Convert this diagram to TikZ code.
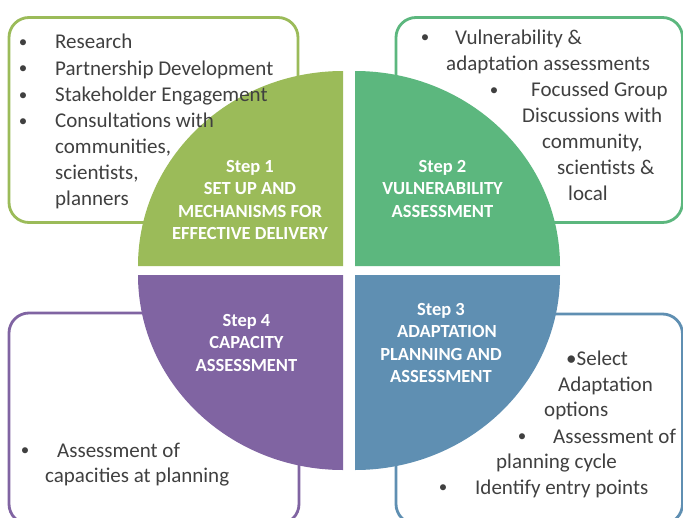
\documentclass[tikz,border=0pt]{standalone}
\usepackage{fontspec}
\setmainfont{Carlito}
\definecolor{stepolive}{HTML}{9BBB59}
\definecolor{stepgreen}{HTML}{5CB77E}
\definecolor{stepblue}{HTML}{5F8FB2}
\definecolor{steppurple}{HTML}{8064A2}
\definecolor{bodygray}{HTML}{404040}
\begin{document}
\begin{tikzpicture}[x=1pt,y=-1pt,
  box/.style={line width=2.8pt, rounded corners=20pt},
  body/.style={inner sep=0pt, text=bodygray, font=\fontsize{21}{26}\selectfont},
  bodyline/.style={body, anchor=base west},
  bulletmark/.style={inner sep=0pt, anchor=base, text=bodygray, font=\fontsize{17}{20}\selectfont, yshift=1.3pt},
  steptext/.style={inner sep=0pt, anchor=base, text=white, font=\fontsize{18.5}{22.5}\selectfont\bfseries},
]
\useasboundingbox (0,0) rectangle (683,517);
\fill[white] (0,0) rectangle (683,517);

% outlined text boxes, one per step
\draw[box, draw=stepolive]  (9,17.5)  rectangle (298,222.5);
\draw[box, draw=stepgreen]  (396,17.5) rectangle (682.5,222.5);
\draw[box, draw=steppurple] (9,313)   rectangle (299,524);
\draw[box, draw=stepblue]   (396,314) rectangle (682.5,524);

% the four quarters of the step wheel
\fill[stepolive]  (343,266) -- ++(-205,0) arc[start angle=180, end angle=270, x radius=205, y radius=195] -- cycle;
\fill[stepgreen]  (355,266) -- ++(0,-195) arc[start angle=270, end angle=360, x radius=205, y radius=195] -- cycle;
\fill[stepblue]   (355,275) -- ++(205,0)  arc[start angle=0,   end angle=90,  x radius=205, y radius=195] -- cycle;
\fill[steppurple] (343,275) -- ++(0,195)  arc[start angle=90,  end angle=180, x radius=205, y radius=195] -- cycle;

% step titles
\node[steptext] (s1a) at (250,172)   {Step 1};
\node[steptext] (s1b) at (250,194.5) {SET UP AND};
\node[steptext] (s1c) at (250,217)   {MECHANISMS FOR};
\node[steptext] (s1d) at (250,239.5) {EFFECTIVE DELIVERY};

\node[steptext] (s2a) at (442.5,172)   {Step 2};
\node[steptext] (s2b) at (442.5,194.5) {VULNERABILITY};
\node[steptext] (s2c) at (442.5,217)   {ASSESSMENT};

\node[steptext] (s3a) at (441,315)   {Step 3};
\node[steptext] (s3b) at (447,337.5) {ADAPTATION};
\node[steptext] (s3c) at (441,360)   {PLANNING AND};
\node[steptext] (s3d) at (441,382.5) {ASSESSMENT};

\node[steptext] (s4a) at (246.5,326)   {Step 4};
\node[steptext] (s4b) at (246.5,348.5) {CAPACITY};
\node[steptext] (s4c) at (246.5,371)   {ASSESSMENT};

% step 1 details
\node[bulletmark] (b1a) at (23,48.5)  {•};
\node[bulletmark] (b1b) at (23,75)    {•};
\node[bulletmark] (b1c) at (23,101.5) {•};
\node[bulletmark] (b1d) at (23,127.5) {•};
\node[bodyline] (t1a) at (55,48.5)  {Research};
\node[bodyline] (t1b) at (55,75)    {Partnership Development};
\node[bodyline] (t1c) at (55,101.5) {Stakeholder Engagement};
\node[bodyline] (t1d) at (55,127.5) {Consultations with};
\node[bodyline] (t1e) at (55,153.5) {communities,};
\node[bodyline] (t1f) at (55,179.5) {scientists,};
\node[bodyline] (t1g) at (55,205.5) {planners};

% step 2 details
\node[bulletmark] (b2a) at (425,44) {•};
\node[bulletmark] (b2b) at (494,96.5) {•};
\node[bodyline] (t2a) at (455,44)   {Vulnerability \&};
\node[bodyline] (t2b) at (446,70)   {adaptation assessments};
\node[bodyline] (t2c) at (531,96.5) {Focussed Group};
\node[bodyline] (t2d) at (522,122)  {Discussions with};
\node[bodyline] (t2e) at (542,148)  {community,};
\node[bodyline] (t2f) at (557,174.5){scientists \&};
\node[bodyline] (t2g) at (568,200)  {local};

% step 3 details
\node[bodyline] (t3a) at (566,365)   {•Select};
\node[bodyline] (t3b) at (558,391)   {Adaptation};
\node[bodyline] (t3c) at (544,416.5) {options};
\node[bulletmark] (b3a) at (522,443) {•};
\node[bodyline] (t3d) at (553,443)   {Assessment of};
\node[bodyline] (t3e) at (496,468)   {planning cycle};
\node[bulletmark] (b3b) at (443,494) {•};
\node[bodyline] (t3f) at (475,494)   {Identify entry points};

% step 4 details
\node[bulletmark] (b4a) at (25,457) {•};
\node[bodyline] (t4a) at (57,457)   {Assessment of};
\node[bodyline] (t4b) at (45,482)   {capacities at planning};
\end{tikzpicture}
\end{document}
